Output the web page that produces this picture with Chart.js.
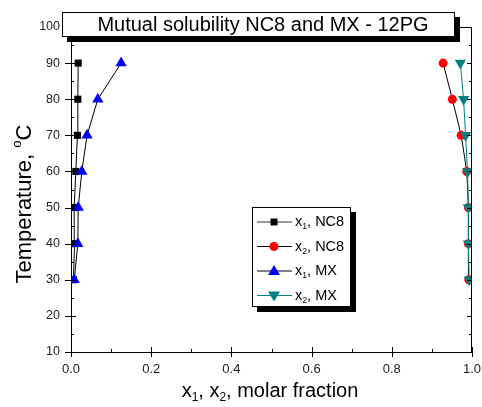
<!DOCTYPE html>
<html>
<head>
<meta charset="utf-8">
<script src="https://cdn.jsdelivr.net/npm/chart.js@4"></script>
<style>
  html, body { margin: 0; padding: 0; background: #fff; }
  #wrap { width: 482px; height: 407px; }
</style>
</head>
<body>
<div id="wrap"><canvas id="chart"></canvas></div>
<script>
const temps = [30, 40, 50, 60, 70, 80, 90];
const x1NC8 = [0.006, 0.009, 0.008, 0.012, 0.016, 0.017, 0.018];
const x2NC8 = [0.992, 0.991, 0.991, 0.987, 0.973, 0.951, 0.928];
const x1MX = [0.008, 0.017, 0.018, 0.027, 0.040, 0.067, 0.125];
const x2MX = [0.993, 0.991, 0.991, 0.989, 0.984, 0.979, 0.971];

const titleText = 'Mutual solubility NC8 and MX - 12PG';
const FONT = '"Liberation Sans", Arial, sans-serif';

const pts = (xs) => xs.map((x, i) => ({ x, y: temps[i] }));

// text with sub/superscripts: parts = [[text, 0 normal | 1 sub | 2 sup], ...]
function drawParts(ctx, parts, x, y, size, align) {
  const fontFor = (k) => (k ? size * 0.6 : size) + 'px ' + FONT;
  let w = 0;
  parts.forEach(([t, k]) => {
    ctx.font = fontFor(k);
    w += ctx.measureText(t).width;
  });
  let cx = align === 'center' ? x - w / 2 : x;
  parts.forEach(([t, k]) => {
    ctx.font = fontFor(k);
    const dy = k === 1 ? size * 0.32 : k === 2 ? -size * 0.35 : 0;
    ctx.fillText(t, cx, y + dy);
    cx += ctx.measureText(t).width;
  });
}

const legendItems = [
  { parts: [['x', 0], ['1', 1], [', NC8', 0]], line: '#333', fill: '#000', style: 'rect' },
  { parts: [['x', 0], ['2', 1], [', NC8', 0]], line: '#000', fill: '#ff0000', style: 'circle' },
  { parts: [['x', 0], ['1', 1], [', MX', 0]], line: '#000', fill: '#0000ff', style: 'up' },
  { parts: [['x', 0], ['2', 1], [', MX', 0]], line: '#008080', fill: '#008080', style: 'down' },
];

const decor = {
  id: 'decor',
  afterDraw(chart) {
    const ctx = chart.ctx;
    const a = chart.chartArea;
    const xs = chart.scales.x, ys = chart.scales.y;
    ctx.save();
    ctx.strokeStyle = '#000';
    ctx.lineWidth = 1;
    // frame top & right
    ctx.beginPath();
    ctx.moveTo(a.left, a.top + 0.5); ctx.lineTo(a.right, a.top + 0.5);
    ctx.moveTo(a.right - 0.5, a.top); ctx.lineTo(a.right - 0.5, a.bottom);
    ctx.stroke();
    // ticks
    ctx.beginPath();
    for (let v = 10; v <= 100; v += 5) {
      const py = Math.round(ys.getPixelForValue(v)) + 0.5;
      const major = v % 10 === 0;
      ctx.moveTo(a.left - (major ? 6 : 0), py); ctx.lineTo(a.left + (major ? 5 : 3), py);
      ctx.moveTo(a.right, py); ctx.lineTo(a.right - (major ? 5 : 3), py);
    }
    for (let i = 0; i <= 10; i++) {
      const px = Math.round(xs.getPixelForValue(i / 10)) + 0.5;
      const major = i % 2 === 0;
      ctx.moveTo(px, a.bottom + (major ? 5 : 0)); ctx.lineTo(px, a.bottom - (major ? 5 : 3));
    }
    ctx.stroke();

    // title box with shadow
    ctx.fillStyle = '#000';
    ctx.fillRect(67, 17, 393, 25);
    ctx.fillStyle = '#fff';
    ctx.fillRect(62, 12, 393, 25);
    ctx.strokeRect(62.5, 12.5, 392, 24);
    ctx.fillStyle = '#000';
    ctx.textAlign = 'center';
    ctx.textBaseline = 'middle';
    ctx.font = '20px ' + FONT;
    ctx.fillText(titleText, 263, 25);

    // legend box
    ctx.fillStyle = '#000';
    ctx.fillRect(257, 212, 99, 100);
    ctx.fillStyle = '#fff';
    ctx.fillRect(252, 207, 99, 100);
    ctx.strokeRect(252.5, 207.5, 98, 99);
    ctx.textAlign = 'left';
    legendItems.forEach((it, i) => {
      const ly = 222 + i * 24.5;
      ctx.strokeStyle = it.line;
      ctx.beginPath(); ctx.moveTo(257, ly); ctx.lineTo(292, ly); ctx.stroke();
      ctx.fillStyle = it.fill;
      ctx.beginPath();
      if (it.style === 'rect') ctx.rect(270.5, ly - 3.5, 7, 7);
      else if (it.style === 'circle') ctx.arc(274, ly, 4.5, 0, Math.PI * 2);
      else if (it.style === 'up') { ctx.moveTo(274, ly - 6); ctx.lineTo(280, ly + 4); ctx.lineTo(268, ly + 4); }
      else { ctx.moveTo(274, ly + 6); ctx.lineTo(280, ly - 4); ctx.lineTo(268, ly - 4); }
      ctx.closePath(); ctx.fill();
      ctx.fillStyle = '#000';
      drawParts(ctx, it.parts, 295, ly, 14.5, 'left');
    });

    // axis titles
    ctx.textBaseline = 'middle';
    drawParts(ctx, [['x', 0], ['1', 1], [', x', 0], ['2', 1], [', molar fraction', 0]], 270, 391, 20, 'center');
    ctx.translate(25, 204);
    ctx.rotate(-Math.PI / 2);
    drawParts(ctx, [['Temperature, ', 0], ['o', 2], ['C', 0]], 0, 0, 22, 'center');
    ctx.restore();
  }
};

const ds = (label, data, line, fill, style, radius, order, rot) => ({
  label, data: pts(data), showLine: true,
  borderColor: line, borderWidth: 1,
  pointBackgroundColor: fill, pointBorderColor: fill, pointBorderWidth: 0,
  pointStyle: style, pointRadius: radius, pointRotation: rot || 0,
  order,
});

new Chart(document.getElementById('chart'), {
  type: 'scatter',
  data: {
    datasets: [
      ds('x1, NC8', x1NC8, '#000', '#000', 'rect', 5, 4),
      ds('x2, NC8', x2NC8, '#000', '#ff0000', 'circle', 4.5, 3),
      ds('x1, MX', x1MX, '#000', '#0000ff', 'triangle', 6.5, 2),
      ds('x2, MX', x2MX, '#008080', '#008080', 'triangle', 6.5, 1, 180),
    ],
  },
  plugins: [decor],
  options: {
    responsive: true,
    maintainAspectRatio: false,
    animation: false,
    layout: { padding: { left: 0, right: 10, top: 27, bottom: 0 } },
    plugins: { legend: { display: false }, tooltip: { enabled: false } },
    scales: {
      x: {
        type: 'linear', min: 0, max: 1,
        grid: { display: false, drawTicks: false },
        border: { display: true, color: '#000' },
        ticks: {
          stepSize: 0.2, padding: 10, color: '#222',
          font: { family: FONT, size: 13 },
          callback: (v) => v.toFixed(1),
        },
        afterFit: (s) => { s.height = 55; s.paddingLeft = 0; s.paddingRight = 0; },
      },
      y: {
        type: 'linear', min: 10, max: 100,
        grid: { display: false, drawTicks: false },
        border: { display: true, color: '#000' },
        ticks: {
          stepSize: 10, padding: 11, color: '#222',
          font: { family: FONT, size: 12.5 },
        },
        afterFit: (s) => { s.width = 71; s.paddingTop = 0; s.paddingBottom = 0; },
      },
    },
  },
});
</script>
</body>
</html>
